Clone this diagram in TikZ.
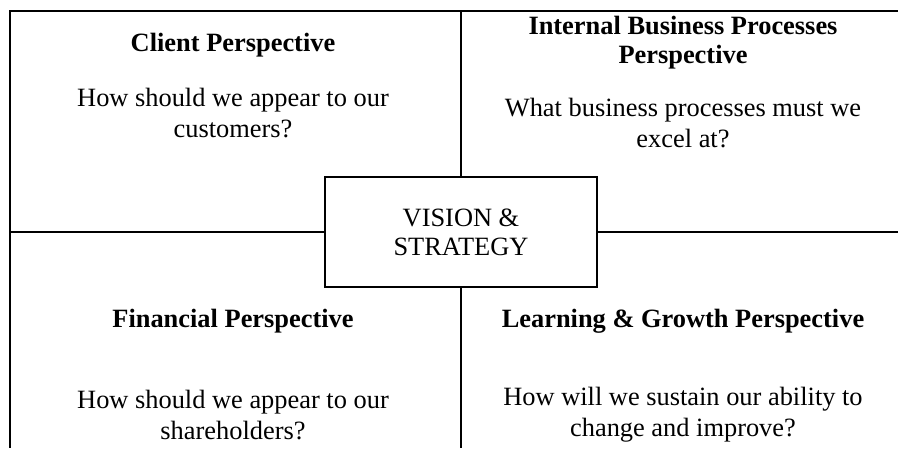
\documentclass[tikz,border=0pt]{standalone}
\usepackage{fontspec}
\setmainfont{Liberation Serif}
\begin{document}
\begin{tikzpicture}[x=1pt,y=-1pt,
  frame/.style={line width=2.6pt,draw=black},
  ttl/.style={font=\fontsize{26.4}{29}\selectfont\bfseries,align=center,inner sep=0pt},
  body/.style={font=\fontsize{26.4}{31}\selectfont,align=center,inner sep=0pt},
  vbox/.style={draw=black,line width=2.6pt,fill=white,minimum width=272pt,minimum height=110pt,font=\fontsize{26.4}{29}\selectfont,align=center,inner sep=0pt}]
\useasboundingbox (0,0) rectangle (898,448);
\coordinate (tl) at (10,11);
\coordinate (tr) at (898,11);
\coordinate (bl) at (10,448);
\coordinate (mt) at (461,11);
\coordinate (mb) at (461,448);
\coordinate (ml) at (10,232);
\coordinate (mr) at (898,232);
\draw[frame] (tr) -- (tl) -- (bl);
\draw[frame] (mt) -- (mb);
\draw[frame] (ml) -- (mr);
\node[vbox] (vs) at (461,232) {VISION \&\\STRATEGY};
\node[ttl] (c1) at (233,45) {Client Perspective};
\node[body] (c2) at (233,113) {How should we appear to our\\customers?};
\node[ttl] (i1) at (683,43) {Internal Business Processes\\Perspective};
\node[body] (i2) at (683,123) {What business processes must we\\excel at?};
\node[ttl] (f1) at (233,321) {Financial Perspective};
\node[body] (f2) at (233,415) {How should we appear to our\\shareholders?};
\node[ttl] (l1) at (683,321) {Learning \& Growth Perspective};
\node[body] (l2) at (683,415) {How will we sustain our ability to\\change and improve?};
\end{tikzpicture}
\end{document}
